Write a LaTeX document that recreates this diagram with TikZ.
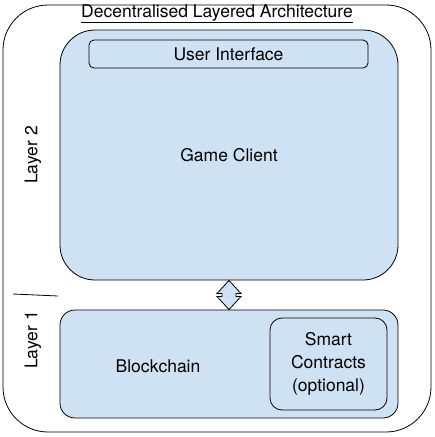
\documentclass[tikz,border=0pt]{standalone}
\usepackage{fontspec}
\setmainfont{TeX Gyre Heros}
\usetikzlibrary{
  positioning,
  calc}
\definecolor{layercolor}{RGB}{207,226,243}
\tikzset{
  %% frame : the rounded frame around the whole architecture
  frame/.style={
    rectangle,
    draw=black,
    line width=0.8pt,
    rounded corners=45pt,
    minimum width=428pt,
    minimum height=427pt
  },
  %% layerbox : a filled box for one layer
  layerbox/.style={
    rectangle,
    draw=black,
    line width=0.8pt,
    fill=layercolor,
    minimum width=338pt,
    align=center
  },
  %% uibox : the user interface strip
  uibox/.style={
    rectangle,
    draw=black,
    line width=0.8pt,
    rounded corners=5pt,
    minimum width=279pt,
    minimum height=28pt,
    align=center
  },
  %% contractbox : the smart contract box
  contractbox/.style={
    rectangle,
    draw=black,
    line width=0.8pt,
    rounded corners=12pt,
    minimum width=117pt,
    minimum height=92pt,
    align=center
  },
  %% layerlabel : rotated layer names
  layerlabel/.style={
    rotate=90,
    anchor=center
  },
  %% link : the double arrow between the layers
  %% This is a path, use as
  %%    \draw [link] ... -- cycle;
  link/.style={
    draw=black,
    line width=0.8pt,
    fill=layercolor,
    line join=miter
  }
}

\begin{document}
\begin{tikzpicture}
  [x=1pt,
  y=-1pt,
  font=\fontsize{17.5}{23}\selectfont]

  \useasboundingbox (0,0) rectangle (435,437);

  %% Outer frame and title
  \node (frame) [frame] at (217,218.5) {};
  \node (title) at (217,14) {\underline{Decentralised Layered Architecture}};

  %% Layer 2
  \node (client) [layerbox, rounded corners=35pt,
    minimum height=250pt] at (229,155) {Game Client};
  \node (ui) [uibox] at (228.5,54) {User Interface};
  \node (layertwo) [layerlabel] at (33,155) {Layer 2};

  %% Layer 1
  \node (chain) [layerbox, rounded corners=15pt,
    minimum height=108pt] at (229,364) {};
  \node (blockchain) at (158,366) {Blockchain};
  \node (contracts) [contractbox] at (328.5,364) {%
    Smart\\ Contracts\\ (optional)};
  \node (layerone) [layerlabel] at (33,340) {Layer 1};

  %% Divider between the layer names
  \coordinate (divleft) at (13,294);
  \coordinate (divright) at (58,296);
  \draw [line width=0.8pt] (divleft) -- (divright);

  %% Connection between the layers
  \coordinate (link) at ($(client.south)!0.5!(chain.north)$);
  \draw [link] (client.south) -- ($(link)+(12,-1.5)$) -- ++(-5,0)
    -- ++(0,3) -- ++(5,0) -- (chain.north) -- ($(link)+(-12,1.5)$)
    -- ++(5,0) -- ++(0,-3) -- ++(-5,0) -- cycle;

\end{tikzpicture}
\end{document}
